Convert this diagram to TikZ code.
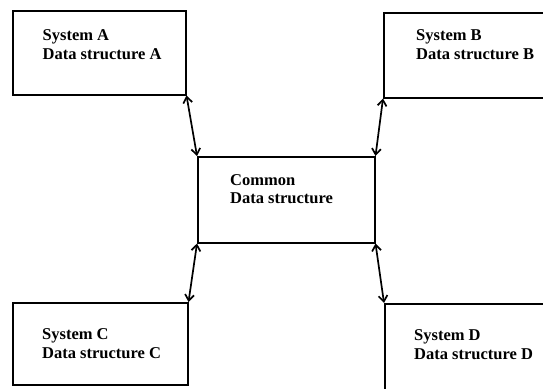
\documentclass[tikz,border=0pt]{standalone}
\usepackage{fontspec}
\setmainfont{Liberation Serif}
\usetikzlibrary{arrows.meta}

\tikzset{
  box/.style={draw, line width=1.5pt, rectangle, inner sep=0pt, anchor=north west},
  lbl/.style={inner sep=0pt, anchor=base west, font=\fontsize{16.5}{19}\selectfont\bfseries},
  link/.style={line width=1.7pt, {Straight Barb[length=6pt,width=9pt]}-{Straight Barb[length=6pt,width=9pt]}}
}

\begin{document}
\begin{tikzpicture}[x=1pt, y=-1pt]
  \useasboundingbox (0,0) rectangle (543,388);
  \clip (0,0) rectangle (543,388);
  \fill[white] (0,0) rectangle (543,388);

  % the four systems and the shared structure in the middle
  \node[box, minimum width=173pt, minimum height=84pt] (A) at (12,10) {};
  \node[box, minimum width=175pt, minimum height=85pt] (B) at (383,12) {};
  \node[box, minimum width=177pt, minimum height=86pt] (M) at (197,156) {};
  \node[box, minimum width=175pt, minimum height=82pt] (C) at (12,302) {};
  \node[box, minimum width=175pt, minimum height=100pt] (D) at (384,303) {};

  % labels
  \node[lbl] (a1) at (42.5,40) {System A};
  \node[lbl] (a2) at (42.5,59) {Data structure A};
  \node[lbl] (b1) at (416,40) {System B};
  \node[lbl] (b2) at (416,59) {Data structure B};
  \node[lbl] (m1) at (230,185) {Common};
  \node[lbl] (m2) at (230,203) {Data structure};
  \node[lbl] (c1) at (42,339) {System C};
  \node[lbl] (c2) at (42,358) {Data structure C};
  \node[lbl] (d1) at (414,340) {System D};
  \node[lbl] (d2) at (414,359) {Data structure D};

  % two-way links, corner to corner
  \draw[link] (A.south east) -- (M.north west);
  \draw[link] (B.south west) -- (M.north east);
  \draw[link] (M.south west) -- (C.north east);
  \draw[link] (M.south east) -- (D.north west);
\end{tikzpicture}
\end{document}
